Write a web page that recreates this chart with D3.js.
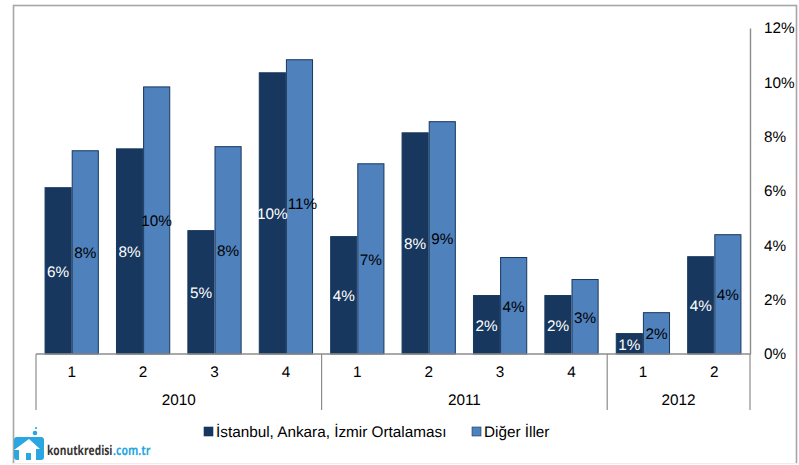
<!DOCTYPE html>
<html><head><meta charset="utf-8">
<script src="https://cdnjs.cloudflare.com/ajax/libs/d3/7.8.5/d3.min.js"></script>
<style>html,body{margin:0;padding:0;background:#fff}svg{display:block}text{font-family:"Liberation Sans",Arial,sans-serif;text-rendering:geometricPrecision}</style>
</head><body><svg id="c" width="799" height="465"></svg>
<script>
const quarters=["1","2","3","4","1","2","3","4","1","2"];
const years=["2010","2011","2012"];
const yearSpans=[4,4,2];
const seriesNames=["İstanbul, Ankara, İzmir Ortalaması","Diğer İller"];
const metro=[6.14,7.57,4.56,10.37,4.34,8.16,2.17,2.17,0.77,3.6];
const other=[7.5,9.85,7.65,10.85,7.02,8.57,3.57,2.76,1.54,4.41];
const yTicks=[0,2,4,6,8,10,12];
const colors=["#17375e","#4f81bd"];
const grey="#8c8c8c";
const fs=15.3;

const svg=d3.select("#c");
svg.append("rect").attr("x",13.5).attr("y",5.5).attr("width",783).attr("height",470)
  .attr("fill","#fff").attr("stroke","#a6a6a6").attr("stroke-width",1.6);
svg.append("line").attr("x1",13).attr("x2",799).attr("y1",463.5).attr("y2",463.5).attr("stroke","#eeeeee");
svg.append("rect").attr("x",0).attr("y",464).attr("width",799).attr("height",1).attr("fill","#fff");

const x=d3.scaleBand().domain(d3.range(quarters.length)).range([36,750]).paddingInner(0.24).paddingOuter(0.12);
const x1=d3.scaleBand().domain([0,1]).range([0,x.bandwidth()]);
const y=d3.scaleLinear().domain([0,12]).range([354,28]);

[metro,other].forEach((vals,s)=>{
  const g=svg.append("g");
  g.selectAll("rect").data(vals).join("rect")
    .attr("x",(d,i)=>x(i)+x1(s)+.5).attr("width",x1.bandwidth()-1)
    .attr("y",d=>y(d)+.5).attr("height",d=>y(0)-y(d)-.5)
    .attr("fill",colors[s]).attr("stroke","#17375e").attr("stroke-width",1);
});
[metro,other].forEach((vals,s)=>{
  const g=svg.append("g");
  // the tallest light bar's label sits slightly off-centre in the reference
  const isShifted=i=>s===1&&i===3;
  g.selectAll("text").data(vals).join("text")
    .attr("x",(d,i)=>x(i)+x1(s)+x1.bandwidth()/2+(isShifted(i)?3:0))
    .attr("y",(d,i)=>(y(d)+y(0))/2+6+(isShifted(i)?-4:0))
    .attr("text-anchor","middle").attr("font-size",fs)
    .attr("fill",s==0?"#fff":"#000")
    .text(d=>Math.round(d)+"%");
});

const ya=svg.append("g").attr("transform","translate(750,0)")
  .call(d3.axisRight(y).tickValues(yTicks).tickSize(0).tickPadding(14).tickFormat(d=>d+"%"));
ya.select(".domain").attr("stroke",grey).attr("stroke-width",1.4);
ya.selectAll("text").attr("font-size",fs).attr("fill","#000").attr("font-family","Liberation Sans").attr("dy",".32em");

svg.append("line").attr("x1",36).attr("x2",750).attr("y1",354).attr("y2",354).attr("stroke",grey).attr("stroke-width",1.4);
svg.append("g").selectAll("text").data(quarters).join("text")
  .attr("x",(d,i)=>x(i)+x.bandwidth()/2).attr("y",377)
  .attr("text-anchor","middle").attr("font-size",fs).attr("fill","#000").text(d=>d);

const step=714/quarters.length;
let acc=0;
const bounds=[36];
years.forEach((yr,i)=>{
  const a=36+acc*step; acc+=yearSpans[i]; const b=36+acc*step; bounds.push(b);
  svg.append("text").attr("x",(a+b)/2).attr("y",405).attr("text-anchor","middle")
    .attr("font-size",fs).attr("fill","#000").text(yr);
});
svg.append("g").selectAll("line").data(bounds).join("line")
  .attr("x1",d=>d).attr("x2",d=>d).attr("y1",354).attr("y2",410).attr("stroke",grey).attr("stroke-width",1.2);

const legend=[[204,seriesNames[0]],[472,seriesNames[1]]];
legend.forEach(([lx,t],i)=>{
  svg.append("rect").attr("x",lx).attr("y",427).attr("width",9).attr("height",9).attr("fill",colors[i]).attr("stroke","#17375e").attr("stroke-width",.6);
  svg.append("text").attr("x",lx+12).attr("y",437).attr("font-size",fs).attr("fill","#000").text(t);
});

// logo
const lg=svg.append("g");
const logoBlue="#2aa7e0";
lg.append("rect").attr("x",14).attr("y",437).attr("width",30).attr("height",23).attr("rx",3).attr("fill",logoBlue);
lg.append("path").attr("d","M14 450 L29 439 L40 449 L36 449 L36 460 L31 460 L31 453 L26 453 L26 460 L19 460 L19 450 Z").attr("fill","#fff");
lg.append("circle").attr("cx",35).attr("cy",433).attr("r",2.3).attr("fill",logoBlue);
lg.append("circle").attr("cx",36).attr("cy",428).attr("r",1.1).attr("fill",logoBlue);
function logoText(t,lx,w,fill){
  const el=lg.append("text").attr("font-size",13.5).attr("font-weight",700)
    .style("font-family","'Open Sans'").attr("fill",fill).text(t);
  const k=w/el.node().getComputedTextLength();
  el.attr("transform",`translate(${lx},455) scale(${k},1)`);
}
logoText("konutkredisi",47,65.5,"#333333");
logoText(".com.tr",113,37.5,logoBlue);
</script></body></html>
